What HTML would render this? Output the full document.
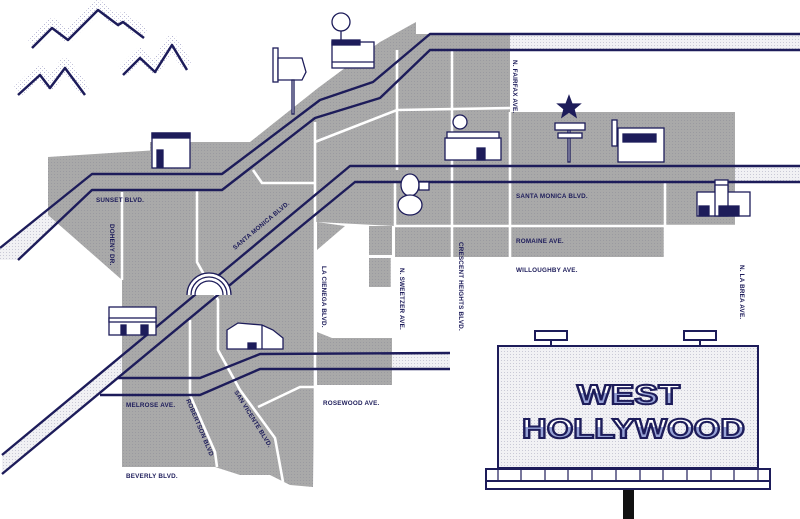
<!DOCTYPE html>
<html><head><meta charset="utf-8"><style>
html,body{margin:0;padding:0;background:#fff;width:800px;height:519px;overflow:hidden}
svg{display:block}
.l{font-family:"Liberation Sans",sans-serif;font-weight:bold;font-size:6.3px;fill:#1d1c5a;letter-spacing:0.2px}
</style></head><body>
<svg width="800" height="519" viewBox="0 0 800 519" xmlns="http://www.w3.org/2000/svg">
<defs>
<pattern id="dot" width="3" height="3" patternUnits="userSpaceOnUse"><rect width="3" height="3" fill="#f1f1f4"/><rect width="1" height="1" fill="#c9c9d6"/></pattern>
<pattern id="gd" width="3" height="3" patternUnits="userSpaceOnUse"><rect width="3" height="3" fill="#a9a9a9"/><rect width="1" height="1" fill="#9a9aa0"/></pattern>
<pattern id="st" width="4" height="4" patternUnits="userSpaceOnUse"><rect width="1" height="1" fill="#8a8ab8"/><rect x="2" y="2" width="1" height="1" fill="#b0b0d0"/></pattern>
<linearGradient id="tg" x1="0" y1="0" x2="0" y2="1"><stop offset="0.45" stop-color="#ffffff"/><stop offset="0.46" stop-color="#98a3d6"/></linearGradient>
</defs>
<g stroke="none">
<polygon fill="url(#dot)" points="430,34 800,34 800,50 430,50"/>
<polygon fill="url(#dot)" points="350,166 800,166 800,182 355,182"/>
<polygon fill="url(#dot)" points="237,260 2,455 2,474 260,260"/>
<polygon fill="url(#dot)" points="260,354 450,353 450,369 260,369"/>
<polygon fill="url(#dot)" points="0,248 92,174 92,190 18,260 0,260"/>
<polygon fill="url(#gd)" points="48,157 150,157 150,142 250,142 318,88 380,42 416,22 416,34 510,34 510,112 735,112 735,225 665,225 665,257 395,257 395,226 317,222 313,222"/>
<polygon fill="url(#gd)" points="48,157 315,140 315,330 313,487 290,485 270,475 240,475 215,467 122,467 122,280 48,215"/>
<polygon fill="url(#gd)" points="317,222 345,226 317,250"/>
<rect fill="url(#gd)" x="369" y="226" width="23" height="29"/>
<rect fill="url(#gd)" x="369" y="258" width="23" height="29"/>
<rect fill="url(#gd)" x="396" y="226" width="54" height="29"/>
<rect fill="url(#gd)" x="453" y="228" width="212" height="29"/>
<polygon fill="url(#gd)" points="317,332 332,338 392,338 392,385 317,385"/>
<polygon fill="url(#gd)" points="260,354 392,353 392,369 260,369"/>
</g>
<g stroke="#fff" stroke-width="2.6" fill="none">
<line x1="122" y1="192" x2="122" y2="280"/>
<polyline points="197,190 197,262 218,300 218,350 240,390 275,438 283,482"/>
<polyline points="190,320 190,395 215,452 217,467"/>
<polyline points="258,407 300,387 315,387"/>
<polyline points="253,170 262,183 315,183"/>
<polyline points="315,142 397,110 510,108"/>
<line x1="315" y1="122" x2="315" y2="490"/>
<line x1="397" y1="50" x2="397" y2="170"/>
<line x1="452" y1="50" x2="452" y2="260"/>
<line x1="510" y1="112" x2="510" y2="260"/>
<line x1="665" y1="182" x2="665" y2="257"/>
<line x1="395" y1="226" x2="735" y2="226"/>
<line x1="395" y1="182" x2="395" y2="226"/>
<line x1="367" y1="226" x2="367" y2="290"/>
<line x1="392" y1="256" x2="392" y2="290"/>
</g>
<g stroke="#1d1c5a" stroke-width="2.4" fill="none" stroke-linejoin="round">
<polyline points="0,248 92,174 222,174 320,100 373,82 430,34 800,34"/>
<polyline points="18,260 92,190 222,190 315,118 380,98 430,50 800,50"/>
<polyline points="2,455 237,260 350,166 800,166"/>
<polyline points="2,474 260,260 355,182 800,182"/>
<polyline points="117,378 200,378 260,354 450,353"/>
<polyline points="100,395 200,395 260,369 450,369"/>
</g>
<g stroke="url(#st)" stroke-width="12" fill="none" stroke-linejoin="round" opacity="0.6">
<polyline points="32,44 52,24 68,36 98,6 118,21 123,18 144,34"/>
<polyline points="18,91 40,71 50,84 65,64 85,91"/>
<polyline points="123,71 140,54 155,68 172,41 187,66"/>
</g>
<g stroke="#1d1c5a" stroke-width="2.5" fill="none" stroke-linejoin="round">
<polyline points="32,48 52,28 68,40 98,10 118,25 123,22 144,38"/>
<polyline points="18,95 40,75 50,88 65,68 85,95"/>
<polyline points="123,75 140,58 155,72 172,45 187,70"/>
</g>
<text class="l" x="96" y="202">SUNSET BLVD.</text>
<text class="l" transform="translate(110,224) rotate(90)">DOHENY DR.</text>
<text class="l" transform="translate(235,250) rotate(-40)">SANTA MONICA BLVD.</text>
<text class="l" transform="translate(322,266) rotate(90)">LA CIENEGA BLVD.</text>
<text class="l" transform="translate(400,268) rotate(90)">N. SWEETZER AVE.</text>
<text class="l" transform="translate(459,242) rotate(90)">CRESCENT HEIGHTS BLVD.</text>
<text class="l" transform="translate(513,60) rotate(90)">N. FAIRFAX AVE.</text>
<text class="l" transform="translate(740,265) rotate(90)">N. LA BREA AVE.</text>
<text class="l" x="516" y="198">SANTA MONICA BLVD.</text>
<text class="l" x="516" y="243">ROMAINE AVE.</text>
<text class="l" x="516" y="272">WILLOUGHBY AVE.</text>
<text class="l" x="126" y="407">MELROSE AVE.</text>
<text class="l" transform="translate(186,400) rotate(67)">ROBERTSON BLVD</text>
<text class="l" transform="translate(234,392) rotate(58)">SAN VICENTE BLVD.</text>
<text class="l" x="323" y="405">ROSEWOOD AVE.</text>
<text class="l" x="126" y="478">BEVERLY BLVD.</text>
<g stroke="#1d1c5a" stroke-width="1.3" fill="#fff">
<circle cx="341" cy="22" r="9"/>
<line x1="341" y1="31" x2="341" y2="40"/>
<rect x="332" y="42" width="42" height="26"/>
<rect x="332" y="40" width="28" height="5" fill="#1d1c5a"/>
<line x1="332" y1="62" x2="374" y2="62"/>
<rect x="273" y="48" width="5" height="34"/>
<polygon points="278,58 302,58 306,72 302,80 278,80"/>
<rect x="292" y="80" width="2" height="34"/>
<rect x="152" y="133" width="38" height="35"/>
<rect x="152" y="133" width="38" height="5" fill="#1d1c5a"/>
<rect x="157" y="150" width="6" height="17" fill="#1d1c5a"/>
<circle cx="460" cy="122" r="7"/>
<rect x="445" y="138" width="56" height="22"/>
<rect x="447" y="132" width="52" height="6"/>
<rect x="477" y="148" width="8" height="12" fill="#1d1c5a"/>
<rect x="568" y="128" width="2" height="34"/>
<rect x="555" y="123" width="30" height="7"/>
<rect x="558" y="133" width="24" height="5"/>
<polygon points="569,96 572,104 580,104 574,109 576,117 569,112 562,117 564,109 558,104 566,104" fill="#1d1c5a"/>
<rect x="618" y="128" width="46" height="34"/>
<rect x="623" y="134" width="33" height="8" fill="#1d1c5a"/>
<rect x="612" y="120" width="5" height="26"/>
<path d="M187,295 a22,22 0 0 1 44,0"/>
<path d="M191,295 a18,18 0 0 1 36,0" fill="none"/>
<path d="M195,295 a14,14 0 0 1 28,0"/>
<rect x="109" y="307" width="47" height="28"/>
<rect x="109" y="318" width="47" height="4"/>
<rect x="121" y="325" width="5" height="10" fill="#1d1c5a"/>
<rect x="141" y="325" width="7" height="10" fill="#1d1c5a"/>
<polygon points="227,330 238,323 262,325 273,330 283,338 283,349 227,349"/>
<line x1="262" y1="325" x2="262" y2="349"/>
<rect x="248" y="343" width="8" height="6" fill="#1d1c5a"/>
<ellipse cx="410" cy="185" rx="9" ry="11"/>
<ellipse cx="410" cy="205" rx="12" ry="10"/>
<rect x="419" y="182" width="10" height="8"/>
<rect x="715" y="180" width="13" height="12"/>
<rect x="697" y="192" width="53" height="24"/>
<rect x="715" y="185" width="13" height="31"/>
<rect x="699" y="206" width="10" height="10" fill="#1d1c5a"/>
<rect x="719" y="206" width="20" height="10" fill="#1d1c5a"/>
</g>
<g stroke="#1d1c5a" stroke-width="2">
<rect x="535" y="331" width="32" height="9" fill="#fff"/>
<rect x="684" y="331" width="32" height="9" fill="#fff"/>
<line x1="551" y1="340" x2="551" y2="346"/>
<line x1="700" y1="340" x2="700" y2="346"/>
<rect x="498" y="346" width="260" height="122" fill="url(#dot)"/>
<rect x="486" y="469" width="284" height="12" fill="#fff"/>
<rect x="486" y="481" width="284" height="8" fill="#fff"/>
<g stroke-width="1.2">
<line x1="498" y1="469" x2="498" y2="481"/><line x1="521" y1="469" x2="521" y2="481"/><line x1="545" y1="469" x2="545" y2="481"/><line x1="568" y1="469" x2="568" y2="481"/><line x1="592" y1="469" x2="592" y2="481"/><line x1="616" y1="469" x2="616" y2="481"/><line x1="640" y1="469" x2="640" y2="481"/><line x1="663" y1="469" x2="663" y2="481"/><line x1="687" y1="469" x2="687" y2="481"/><line x1="711" y1="469" x2="711" y2="481"/><line x1="734" y1="469" x2="734" y2="481"/><line x1="758" y1="469" x2="758" y2="481"/>
</g>
</g>
<rect x="623" y="490" width="11" height="29" fill="#111"/>
<g font-family="Liberation Sans, sans-serif" font-weight="bold" fill="url(#tg)" stroke="#1d1c5a" stroke-width="2">
<text x="577" y="404" font-size="28" textLength="103" lengthAdjust="spacingAndGlyphs">WEST</text>
<text x="522" y="438" font-size="28" textLength="223" lengthAdjust="spacingAndGlyphs">HOLLYWOOD</text>
</g>
</svg>
</body></html>
